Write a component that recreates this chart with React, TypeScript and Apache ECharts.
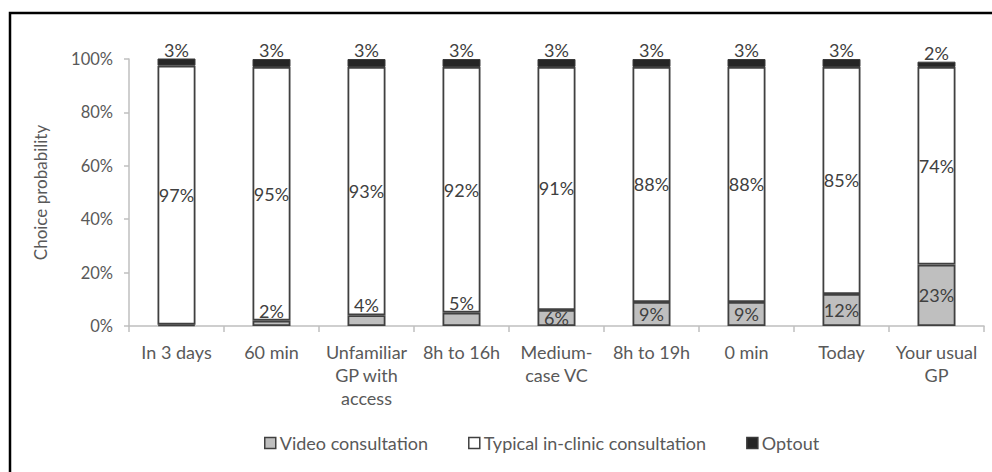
import React, { useEffect, useRef } from "react";
import * as echarts from "echarts";

// Attribute levels on the x axis
const categories = [
  "In 3 days",
  "60 min",
  "Unfamiliar\nGP with\naccess",
  "8h to 16h",
  "Medium-\ncase VC",
  "8h to 19h",
  "0 min",
  "Today",
  "Your usual\nGP",
];

// Choice probabilities (%) per alternative
const videoConsultation = [0.5, 2, 4, 5, 6, 9, 9, 12, 23];
const inClinicConsultation = [97, 95, 93, 92, 91, 88, 88, 85, 74];
const optout = [3, 3, 3, 3, 3, 3, 3, 3, 2];

const yTicks = [0, 20, 40, 60, 80, 100];

const FONT = "Lato, 'Noto Sans', sans-serif";
const TEXT = "#595959";
const EDGE = "#404040";

export default function App() {
  const ref = useRef<HTMLDivElement>(null);

  useEffect(() => {
    if (!ref.current) return;
    const chart = echarts.init(ref.current, undefined, { renderer: "svg" });

    const labelBase = {
      fontFamily: FONT,
      fontSize: 18,
      color: EDGE,
      formatter: (p: any) => `${Math.round(p.value)}%`,
    };

    chart.setOption({
      animation: false,
      backgroundColor: "#fff",
      textStyle: { fontFamily: FONT },
      graphic: [
        {
          type: "rect",
          shape: { x: 10, y: 13, width: 1200, height: 800 },
          style: { fill: "none", stroke: "#000", lineWidth: 2.5 },
          silent: true,
        },
      ],
      grid: { left: 129, right: 8, top: 59, bottom: 146 },
      legend: {
        top: 429,
        left: 259,
        icon: "rect",
        itemWidth: 11,
        itemHeight: 11,
        itemGap: 40,
        itemStyle: { borderWidth: 1.5 },
        textStyle: { fontFamily: FONT, fontSize: 18, color: TEXT, padding: [0, 0, 0, -1] },
        data: ["Video consultation", "Typical in-clinic consultation", "Optout"],
      },
      xAxis: {
        type: "category",
        data: categories,
        axisLine: { lineStyle: { color: "#bfbfbf", width: 1.5 } },
        axisTick: { show: true, length: 6, lineStyle: { color: "#bfbfbf", width: 1.5 } },
        axisLabel: {
          fontFamily: FONT,
          fontSize: 18,
          color: TEXT,
          margin: 14,
          lineHeight: 23,
          interval: 0,
        },
      },
      yAxis: {
        type: "value",
        min: 0,
        max: 100,
        interval: 20,
        name: "Choice probability",
        nameLocation: "middle",
        nameGap: 80,
        nameTextStyle: { fontFamily: FONT, fontSize: 17, color: TEXT },
        splitLine: { show: false },
        axisLine: { show: true, lineStyle: { color: "#bfbfbf", width: 1.5 } },
        axisTick: { show: true, length: 5, lineStyle: { color: "#bfbfbf", width: 1.5 } },
        axisLabel: {
          fontFamily: FONT,
          fontSize: 16.5,
          color: TEXT,
          margin: 16,
          formatter: (v: number) => (yTicks.includes(v) ? `${v}%` : ""),
        },
      },
      series: [
        {
          name: "Video consultation",
          type: "bar",
          stack: "total",
          barWidth: "40%",
          itemStyle: { color: "#bfbfbf", borderColor: EDGE, borderWidth: 1.8 },
          data: videoConsultation.map((v) => ({
            value: v,
            label: {
              show: v >= 1,
              position: v < 6 ? "top" : "inside",
              distance: 1,
            },
          })),
          label: labelBase,
        },
        {
          name: "Typical in-clinic consultation",
          type: "bar",
          stack: "total",
          itemStyle: { color: "#ffffff", borderColor: EDGE, borderWidth: 1.8 },
          data: inClinicConsultation,
          label: { ...labelBase, show: true, position: "inside" },
        },
        {
          name: "Optout",
          type: "bar",
          stack: "total",
          itemStyle: { color: "#262626", borderColor: "#3a3a3a", borderWidth: 1 },
          data: optout,
          label: { ...labelBase, show: true, position: "top", distance: 0 },
        },
      ],
    });

    return () => chart.dispose();
  }, []);

  return (
    <div
      ref={ref}
      style={{ position: "fixed", left: 0, top: 0, width: 992, height: 472 }}
    />
  );
}
